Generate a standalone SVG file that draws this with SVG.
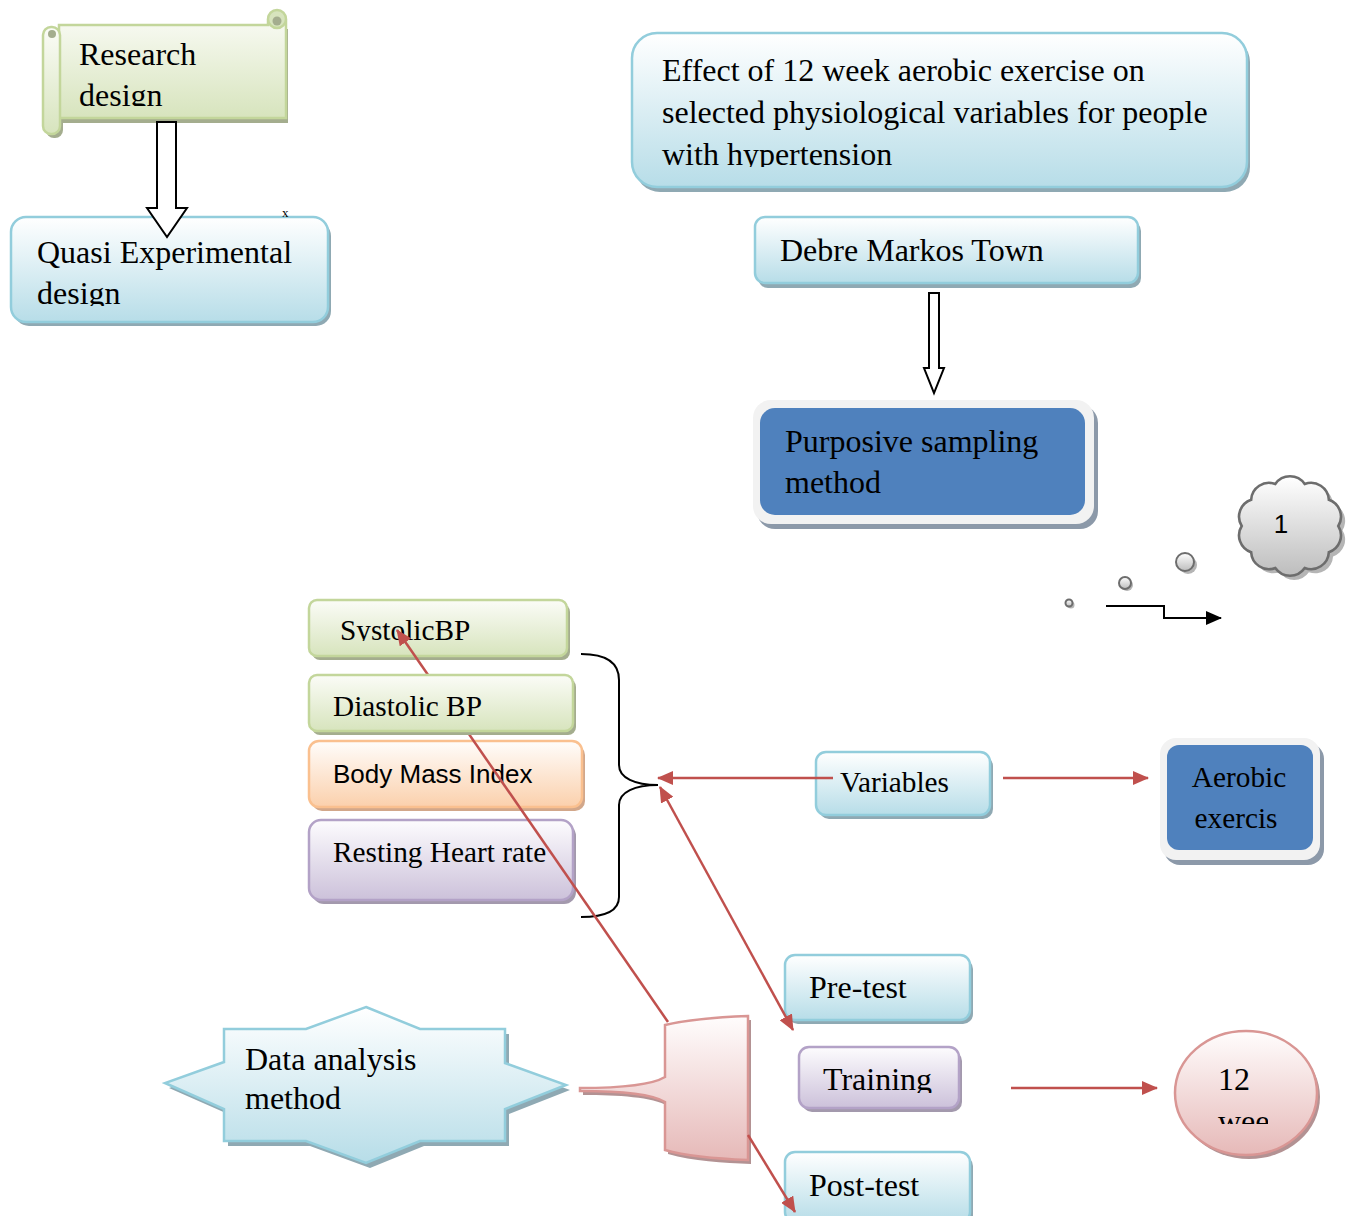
<svg xmlns="http://www.w3.org/2000/svg" width="1354" height="1216" viewBox="0 0 1354 1216">
<style>
text{font-family:"Liberation Serif","Times New Roman",serif;font-size:32px;fill:#000}
.s29{font-size:29.3px}
.sans{font-family:"Liberation Sans",Arial,sans-serif;font-size:26px}
.blue{fill:url(#gBlue);stroke:#92cddc;stroke-width:2.5}
.green{fill:url(#gGreen);stroke:#c3d69b;stroke-width:2.5}
.orange{fill:url(#gOrange);stroke:#fac08f;stroke-width:2.5}
.purple{fill:url(#gPurple);stroke:#b3a2c7;stroke-width:2.5}
.pink{fill:url(#gPink);stroke:#d99694;stroke-width:2.5}
.shB{fill:#8fa9b3}
.shG{fill:#a4ad8e}
.shO{fill:#d2a78a}
.shP{fill:#a399ad}
.shK{fill:#b39293}
.shF{fill:#8c99a9}
.red{stroke:#c0504d;stroke-width:2.5;fill:none}
.hollow{fill:#fff;stroke:#000;stroke-width:2}
</style>
<defs>
<linearGradient id="gBlue" x1="0" y1="0" x2="0" y2="1"><stop offset="0" stop-color="#ffffff"/><stop offset="1" stop-color="#b7dde8"/></linearGradient>
<linearGradient id="gGreen" x1="0" y1="0" x2="0" y2="1"><stop offset="0" stop-color="#fbfcf7"/><stop offset="1" stop-color="#d7e4bd"/></linearGradient>
<linearGradient id="gOrange" x1="0" y1="0" x2="0" y2="1"><stop offset="0" stop-color="#fffdfb"/><stop offset="1" stop-color="#fbd0ac"/></linearGradient>
<linearGradient id="gPurple" x1="0" y1="0" x2="0" y2="1"><stop offset="0" stop-color="#fdfcfe"/><stop offset="1" stop-color="#ccc1da"/></linearGradient>
<linearGradient id="gPink" x1="0" y1="0" x2="0" y2="1"><stop offset="0" stop-color="#fffdfd"/><stop offset="1" stop-color="#e6b9b8"/></linearGradient>
<linearGradient id="gCloud" x1="0" y1="0" x2="0" y2="1"><stop offset="0" stop-color="#ffffff"/><stop offset="1" stop-color="#bdbdbd"/></linearGradient>
<marker id="ar" markerUnits="userSpaceOnUse" markerWidth="16" markerHeight="14" refX="15" refY="7" orient="auto-start-reverse"><path d="M0,0 L16,7 L0,14 z" fill="#c0504d"/></marker>
<marker id="ak" markerUnits="userSpaceOnUse" markerWidth="16" markerHeight="14" refX="15" refY="7" orient="auto"><path d="M0,0 L16,7 L0,14 z" fill="#000"/></marker>
<clipPath id="cRes"><rect x="40" y="20" width="250" height="86"/></clipPath>
<clipPath id="cQua"><rect x="10" y="220" width="320" height="86"/></clipPath>
<clipPath id="cEff"><rect x="640" y="40" width="600" height="127"/></clipPath>
<clipPath id="cSys"><rect x="310" y="600" width="260" height="41"/></clipPath>
<clipPath id="cTra"><rect x="800" y="1050" width="160" height="43"/></clipPath>
<clipPath id="cWee"><rect x="1200" y="1060" width="68" height="64"/></clipPath>
</defs>
<rect width="1354" height="1216" fill="#fff"/>

<g id="research-design">
<path class="shG" d="M63,29 H288 V123 H63 Z"/>
<rect class="shG" x="46" y="31" width="17" height="107" rx="8"/>
<path class="green" d="M59,25 H268 V20 A9,9 0 0 1 286,20 V118 H59 Z"/>
<circle cx="277" cy="19" r="9" fill="#d7e4bd" stroke="#c3d69b" stroke-width="2.5"/>
<circle cx="277" cy="21" r="4.5" fill="#a4ad8e"/>
<rect class="green" x="43" y="27" width="17" height="107" rx="8"/>
<circle cx="52" cy="34" r="4" fill="#a4ad8e"/>
<g clip-path="url(#cRes)"><text x="79" y="65">Research</text><text x="79" y="106">design</text></g>
</g>

<g id="quasi">
<rect class="shB" x="14" y="221" width="317" height="105" rx="15"/>
<rect class="blue" x="11" y="217" width="317" height="105" rx="15"/>
<g clip-path="url(#cQua)"><text x="37" y="263">Quasi Experimental</text><text x="37" y="304">design</text></g>
</g>
<text x="282" y="217" style="font-size:13px">x</text>

<g id="effect">
<rect class="shB" x="635" y="37" width="615" height="155" rx="25"/>
<rect class="blue" x="632" y="33" width="615" height="154" rx="25"/>
<g clip-path="url(#cEff)"><text x="662" y="81">Effect of 12 week aerobic exercise on</text><text x="662" y="123">selected physiological variables for people</text><text x="662" y="165">with hypertension</text></g>
</g>

<g id="debre">
<rect class="shB" x="758" y="221" width="383" height="67" rx="10"/>
<rect class="blue" x="755" y="217" width="383" height="66" rx="10"/>
<text x="780" y="261">Debre Markos Town</text>
</g>

<g id="purposive">
<rect class="shF" x="757" y="405" width="341" height="124" rx="18"/>
<rect x="753" y="400" width="341" height="124" rx="18" fill="#f2f2f2"/>
<rect x="760" y="408" width="325" height="107" rx="15" fill="#4f81bd"/>
<text x="785" y="452">Purposive sampling</text><text x="785" y="493">method</text>
</g>

<g id="cloud">
<circle cx="1071" cy="605" r="3.5" fill="#b5b5b5"/>
<circle cx="1069" cy="603" r="3.5" fill="url(#gCloud)" stroke="#6d6d6d" stroke-width="2"/>
<circle cx="1127" cy="585" r="6" fill="#b5b5b5"/>
<circle cx="1125" cy="583" r="6" fill="url(#gCloud)" stroke="#6d6d6d" stroke-width="2"/>
<circle cx="1188" cy="565" r="9" fill="#b5b5b5"/>
<circle cx="1185" cy="562" r="9" fill="url(#gCloud)" stroke="#6d6d6d" stroke-width="2"/>
<g transform="translate(1290,526) scale(1.05) translate(-1290,-526)">
<path transform="translate(4,4)" fill="#b5b5b5" d="M1336,526 A17,17 0 0 1 1327,551 A17,17 0 0 1 1304,566 A17,17 0 0 1 1276,566 A17,17 0 0 1 1253,551 A17,17 0 0 1 1244,526 A17,17 0 0 1 1253,501 A17,17 0 0 1 1276,486 A17,17 0 0 1 1304,486 A17,17 0 0 1 1327,501 A17,17 0 0 1 1336,526 Z"/>
<path fill="url(#gCloud)" stroke="#6d6d6d" stroke-width="2.5" d="M1336,526 A17,17 0 0 1 1327,551 A17,17 0 0 1 1304,566 A17,17 0 0 1 1276,566 A17,17 0 0 1 1253,551 A17,17 0 0 1 1244,526 A17,17 0 0 1 1253,501 A17,17 0 0 1 1276,486 A17,17 0 0 1 1304,486 A17,17 0 0 1 1327,501 A17,17 0 0 1 1336,526 Z"/>
</g>
<text class="sans" x="1281" y="533" text-anchor="middle">1</text>
</g>

<g id="systolic">
<rect class="shG" x="312" y="604" width="258" height="56" rx="8"/>
<rect class="green" x="309" y="600" width="258" height="56" rx="8"/>
<g clip-path="url(#cSys)"><text class="s29" x="340" y="640">SystolicBP</text></g>
</g>

<g id="bmi">
<rect class="shO" x="312" y="745" width="273" height="66" rx="10"/>
<rect class="orange" x="309" y="741" width="273" height="66" rx="10"/>
<text class="sans" x="333" y="783">Body Mass Index</text>
</g>

<g id="resting">
<rect class="shP" x="312" y="824" width="264" height="80" rx="12"/>
<rect class="purple" x="309" y="820" width="264" height="80" rx="12"/>
<text class="s29" x="333" y="862">Resting Heart rate</text>
</g>

<g id="variables">
<rect class="shB" x="819" y="756" width="174" height="63" rx="10"/>
<rect class="blue" x="816" y="752" width="174" height="63" rx="10"/>
<text class="s29" x="840" y="792">Variables</text>
</g>

<g id="aerobic">
<rect class="shF" x="1164" y="743" width="160" height="122" rx="16"/>
<rect x="1160" y="738" width="160" height="122" rx="16" fill="#f2f2f2"/>
<rect x="1167" y="745" width="146" height="105" rx="12" fill="#4f81bd"/>
<text class="s29" x="1239" y="787" text-anchor="middle">Aerobic</text><text class="s29" x="1236" y="828" text-anchor="middle">exercis</text>
</g>

<g id="pretest">
<rect class="shB" x="788" y="959" width="185" height="65" rx="10"/>
<rect class="blue" x="785" y="955" width="185" height="65" rx="10"/>
<text x="809" y="998">Pre-test</text>
</g>

<g id="training">
<rect class="shP" x="802" y="1051" width="160" height="61" rx="10"/>
<rect class="purple" x="799" y="1047" width="160" height="61" rx="10"/>
<g clip-path="url(#cTra)"><text x="823" y="1090">Training</text></g>
</g>

<g id="posttest">
<rect class="shB" x="788" y="1156" width="185" height="70" rx="10"/>
<rect class="blue" x="785" y="1152" width="185" height="70" rx="10"/>
<text x="809" y="1196">Post-test</text>
</g>

<g id="weeks">
<ellipse class="shK" cx="1249" cy="1097" rx="71" ry="62"/>
<ellipse class="pink" cx="1246" cy="1093" rx="71" ry="62"/>
<text x="1218" y="1090">12</text>
<g clip-path="url(#cWee)"><text x="1218" y="1132">week</text></g>
</g>

<g id="data-analysis">
<path class="shB" transform="translate(4,5)" d="M366,1007 L420,1029 H505 V1063 L566,1085 L505,1109 V1141 H420 L366,1163 L306,1141 H224 V1109 L165,1083 L224,1062 V1029 H306 Z"/>
<path class="blue" d="M366,1007 L420,1029 H505 V1063 L566,1085 L505,1109 V1141 H420 L366,1163 L306,1141 H224 V1109 L165,1083 L224,1062 V1029 H306 Z"/>
<text x="245" y="1070">Data analysis</text><text x="245" y="1109">method</text>
</g>

<g id="brace-callout">
<path class="shK" transform="translate(3,4)" d="M665,1025 C690,1019 720,1017 748,1016 L748,1160 C720,1159 690,1157 665,1150 L665,1102 C650,1093 615,1091 580,1091 L580,1088 C615,1088 650,1086 665,1077 Z"/>
<path class="pink" d="M665,1025 C690,1019 720,1017 748,1016 L748,1160 C720,1159 690,1157 665,1150 L665,1102 C650,1093 615,1091 580,1091 L580,1088 C615,1088 650,1086 665,1077 Z"/>
</g>

<g id="connectors">
<polygon class="hollow" points="157,122 176,122 176,208 187,208 167,237 147,208 157,208"/>
<polygon class="hollow" points="929,293 939,293 939,368 944,368 934,393 924,368 929,368"/>
<path d="M581,654 C606,654 619,662 619,680 L619,765 C619,778 635,785 658,785 C635,785 619,792 619,805 L619,897 C619,910 606,917 581,917" fill="none" stroke="#000" stroke-width="2"/>
<line class="red" x1="833" y1="778" x2="658" y2="778" marker-end="url(#ar)"/>
<line class="red" x1="660" y1="787" x2="793" y2="1030" marker-start="url(#ar)" marker-end="url(#ar)"/>
<line class="red" x1="668" y1="1022" x2="397" y2="630" marker-end="url(#ar)"/>
<line class="red" x1="1003" y1="778" x2="1148" y2="778" marker-end="url(#ar)"/>
<line class="red" x1="1011" y1="1088" x2="1157" y2="1088" marker-end="url(#ar)"/>
<line class="red" x1="748" y1="1135" x2="795" y2="1212" marker-end="url(#ar)"/>
<path d="M1106,606 H1164 V618 H1221" fill="none" stroke="#000" stroke-width="2" marker-end="url(#ak)"/>
</g>

<g id="diastolic">
<rect class="shG" x="312" y="679" width="264" height="56" rx="8"/>
<rect class="green" x="309" y="675" width="264" height="56" rx="8"/>
<text class="s29" x="333" y="716">Diastolic BP</text>
</g>
</svg>
